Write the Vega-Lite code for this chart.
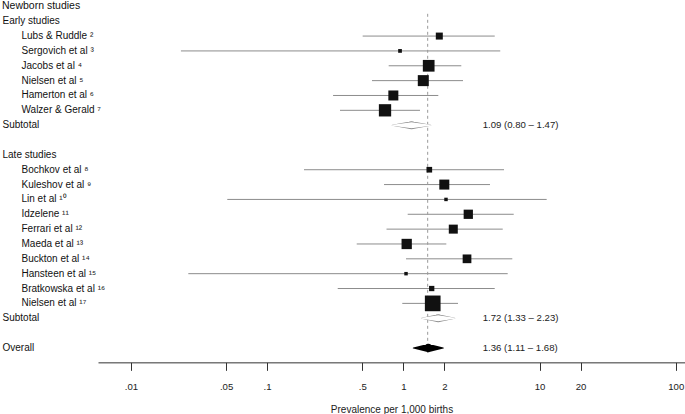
{
  "$schema": "https://vega.github.io/schema/vega-lite/v6.json",
  "width": 587,
  "height": 341.55,
  "autosize": {"type": "none"},
  "padding": {"left": 98, "top": 13.8, "right": 0, "bottom": 58.65},
  "title": {"text": "Newborn studies", "anchor": "start", "frame": "bounds", "fontSize": 10.5, "fontWeight": "normal", "font": "Liberation Sans", "color": "#111", "offset": 2},
  "config": {"view": {"stroke": null}, "font": "Liberation Sans"},
  "datasets": {
    "rows": [
      {"row": 0, "label": "Early studies", "kind": "head"},
      {"row": 1, "label": "Lubs & Ruddle ²", "kind": "study", "est": 1.838, "lo": 0.503, "hi": 4.69, "w": 19.6},
      {"row": 2, "label": "Sergovich et al ³", "kind": "study", "est": 0.946, "lo": 0.0233, "hi": 5.15, "w": 5.6},
      {"row": 3, "label": "Jacobs et al ⁴", "kind": "study", "est": 1.536, "lo": 0.781, "hi": 2.666, "w": 54.8},
      {"row": 4, "label": "Nielsen et al ⁵", "kind": "study", "est": 1.402, "lo": 0.589, "hi": 2.744, "w": 48.4},
      {"row": 5, "label": "Hamerton et al ⁶", "kind": "study", "est": 0.845, "lo": 0.305, "hi": 1.807, "w": 40},
      {"row": 6, "label": "Walzer & Gerald ⁷", "kind": "study", "est": 0.734, "lo": 0.343, "hi": 1.326, "w": 60.4},
      {"row": 7, "label": "Subtotal", "kind": "sub", "summary": "1.09 (0.80 – 1.47)"},
      {"row": 8, "label": "\u200b", "kind": "blank"},
      {"row": 9, "label": "Late studies", "kind": "head"},
      {"row": 10, "label": "Bochkov et al ⁸", "kind": "study", "est": 1.552, "lo": 0.1866, "hi": 5.488, "w": 12.8},
      {"row": 11, "label": "Kuleshov et al ⁹", "kind": "study", "est": 2.0, "lo": 0.722, "hi": 4.33, "w": 40},
      {"row": 12, "label": "Lin et al ¹⁰", "kind": "study", "est": 2.058, "lo": 0.051, "hi": 11.29, "w": 4.8},
      {"row": 13, "label": "Idzelene ¹¹", "kind": "study", "est": 3.0, "lo": 1.077, "hi": 6.465, "w": 34.4},
      {"row": 14, "label": "Ferrari et al ¹²", "kind": "study", "est": 2.328, "lo": 0.753, "hi": 5.37, "w": 32.4},
      {"row": 15, "label": "Maeda et al ¹³", "kind": "study", "est": 1.059, "lo": 0.455, "hi": 2.069, "w": 42.4},
      {"row": 16, "label": "Buckton et al ¹⁴", "kind": "study", "est": 2.936, "lo": 1.047, "hi": 6.314, "w": 30.4},
      {"row": 17, "label": "Hansteen et al ¹⁵", "kind": "study", "est": 1.047, "lo": 0.0264, "hi": 5.84, "w": 4.8},
      {"row": 18, "label": "Bratkowska et al ¹⁶", "kind": "study", "est": 1.616, "lo": 0.33, "hi": 4.69, "w": 11.2},
      {"row": 19, "label": "Nielsen et al ¹⁷", "kind": "study", "est": 1.644, "lo": 0.983, "hi": 2.521, "w": 98.4},
      {"row": 20, "label": "Subtotal\u200b", "kind": "sub", "summary": "1.72 (1.33 – 2.23)"},
      {"row": 21, "label": "\u200b\u200b", "kind": "blank"},
      {"row": 22, "label": "Overall", "kind": "overall", "est": 1.51, "summary": "1.36 (1.11 – 1.68)"}
    ],
    "diamonds": [
      {"row": 7, "label": "Subtotal", "kind": "sub", "pt": "lo", "x": 0.83},
      {"row": 7, "label": "Subtotal", "kind": "sub", "pt": "est", "x": 1.149},
      {"row": 7, "label": "Subtotal", "kind": "sub", "pt": "hi", "x": 1.589},
      {"row": 20, "label": "Subtotal\u200b", "kind": "sub", "pt": "lo", "x": 1.365},
      {"row": 20, "label": "Subtotal\u200b", "kind": "sub", "pt": "est", "x": 1.803},
      {"row": 20, "label": "Subtotal\u200b", "kind": "sub", "pt": "hi", "x": 2.384},
      {"row": 22, "label": "Overall", "kind": "overall", "pt": "lo", "x": 1.184},
      {"row": 22, "label": "Overall", "kind": "overall", "pt": "est", "x": 1.526},
      {"row": 22, "label": "Overall", "kind": "overall", "pt": "hi", "x": 1.967}
    ]
  },
  "data": {"name": "rows"},
  "layer": [
    {
      "layer": [
        {
          "transform": [{"filter": "datum.kind == 'study'"}],
          "mark": {"type": "rule", "color": "#8c8c8c", "strokeWidth": 1},
          "encoding": {
            "x": {"field": "lo", "type": "quantitative", "scale": {"type": "log", "domain": [0.005734, 117], "nice": false}, "title": "Prevalence per 1,000 births",
              "axis": {"values": [0.01, 0.05, 0.1, 0.5, 1, 2, 10, 20, 100], "labelExpr": "datum.value < 1 ? replace(toString(datum.value), '0.', '.') : toString(datum.value)", "grid": false, "offset": 7, "domainColor": "#333", "tickColor": "#333", "tickSize": 8, "labelFontSize": 9.6, "labelColor": "#222", "labelPadding": 11, "labelFlush": false, "labelOverlap": false, "titleFontSize": 10, "titleFontWeight": "normal", "titleColor": "#222", "titlePadding": 14}},
            "x2": {"field": "hi"},
            "y": {"field": "label", "type": "ordinal", "sort": {"field": "row", "op": "min"}, "title": null,
              "axis": {"orient": "left", "domain": false, "ticks": false, "labelAlign": "left", "labelBaseline": "middle", "labelFontSize": 10, "labelColor": "#111", "labelLimit": 200, "labelPadding": 77,
                "labelExpr": "test(/[⁰¹²³⁴⁵⁶⁷⁸⁹]/, datum.label) ? datum.label : ''"}}
          }
        },
        {
          "transform": [{"filter": "datum.kind == 'overall'"}],
          "mark": {"type": "rule", "color": "#999", "strokeDash": [3, 3], "strokeWidth": 1},
          "encoding": {"x": {"field": "est", "type": "quantitative", "title": "Prevalence per 1,000 births"}}
        },
        {
          "transform": [{"filter": "datum.kind == 'study'"}],
          "mark": {"type": "square", "filled": true, "color": "#111", "opacity": 1},
          "encoding": {
            "x": {"field": "est", "type": "quantitative", "title": "Prevalence per 1,000 births"},
            "y": {"field": "label", "type": "ordinal", "sort": {"field": "row", "op": "min"}, "title": null},
            "size": {"field": "w", "type": "quantitative", "scale": {"type": "linear", "domain": [0, 100], "range": [0, 250]}, "legend": null}
          }
        },
        {
          "data": {"name": "diamonds"},
          "transform": [{"filter": "datum.kind == 'sub'"}],
          "mark": {"type": "trail", "color": "#8a8a8a"},
          "encoding": {
            "x": {"field": "x", "type": "quantitative", "title": "Prevalence per 1,000 births"},
            "y": {"field": "label", "type": "ordinal", "sort": {"field": "row", "op": "min"}, "title": null},
            "detail": {"field": "label", "type": "nominal"},
            "size": {"condition": {"test": "datum.pt == 'est'", "value": 8}, "value": 0}
          }
        },
        {
          "data": {"name": "diamonds"},
          "transform": [{"filter": "datum.kind == 'sub'"}],
          "mark": {"type": "trail", "color": "#ffffff"},
          "encoding": {
            "x": {"field": "x", "type": "quantitative", "title": "Prevalence per 1,000 births"},
            "y": {"field": "label", "type": "ordinal", "sort": {"field": "row", "op": "min"}, "title": null},
            "detail": {"field": "label", "type": "nominal"},
            "size": {"condition": {"test": "datum.pt == 'est'", "value": 6}, "value": 0}
          }
        },
        {
          "data": {"name": "diamonds"},
          "transform": [{"filter": "datum.kind == 'overall'"}],
          "mark": {"type": "trail", "color": "#000000"},
          "encoding": {
            "x": {"field": "x", "type": "quantitative", "title": "Prevalence per 1,000 births"},
            "y": {"field": "label", "type": "ordinal", "sort": {"field": "row", "op": "min"}, "title": null},
            "detail": {"field": "label", "type": "nominal"},
            "size": {"condition": {"test": "datum.pt == 'est'", "value": 8.5}, "value": 0}
          }
        }
      ]
    },
    {
      "mark": {"type": "text", "align": "left", "baseline": "middle", "fontSize": 9.6, "color": "#222"},
      "encoding": {
        "x": {"datum": 3.828, "type": "quantitative", "scale": {"type": "log", "domain": [0.005734, 117], "nice": false}, "axis": null},
        "y": {"field": "label", "type": "ordinal", "sort": {"field": "row", "op": "min"}, "title": null,
          "axis": {"orient": "left", "domain": false, "ticks": false, "labelAlign": "left", "labelBaseline": "middle", "labelFontSize": 10, "labelColor": "#111", "labelLimit": 200, "labelPadding": 96,
            "labelExpr": "test(/[⁰¹²³⁴⁵⁶⁷⁸⁹]/, datum.label) ? '' : datum.label"}},
        "text": {"condition": {"test": "isValid(datum.summary)", "field": "summary", "type": "nominal"}, "value": ""}
      }
    }
  ],
  "resolve": {"scale": {"x": "independent"}, "axis": {"y": "independent"}}
}
